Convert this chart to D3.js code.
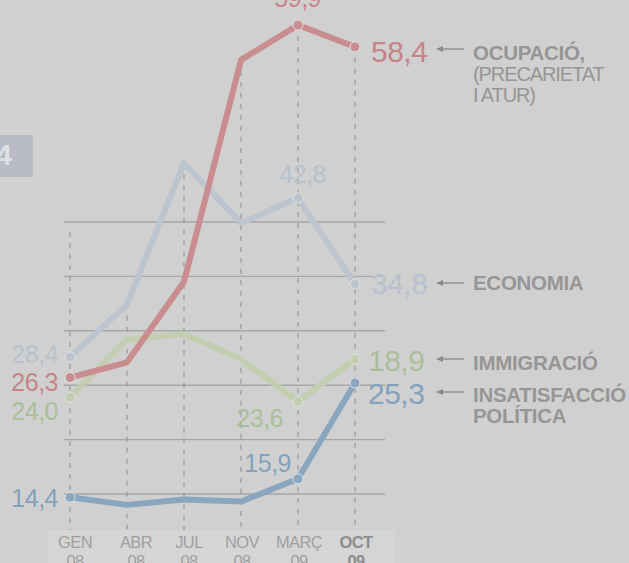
<!DOCTYPE html>
<html><head><meta charset="utf-8">
<script src="https://cdn.jsdelivr.net/npm/d3@7/dist/d3.min.js"></script>
<style>
html,body{margin:0;padding:0;background:#d0d0d0;overflow:hidden}
svg{display:block}
text{font-family:"Liberation Sans",Arial,Helvetica,sans-serif}
</style></head>
<body>
<svg id="c" width="629" height="563"></svg>
<script>
// ---- data ----
const categories = ["GEN", "ABR", "JUL", "NOV", "MARÇ", "OCT"];
const years = ["08", "08", "08", "08", "09", "09"];
const gridTicks = [15, 20, 25, 30, 35, 40];
const economia = [27.6, 32.4, 45.4, 39.9, 42.2, 34.3];
const immigracio = [23.9, 29.2, 29.7, 27.4, 23.5, 27.4];
const ocupacio = [25.7, 27.1, 34.5, 54.9, 58.1, 56.1];
const insatisfaccio = [14.7, 14.0, 14.5, 14.3, 16.4, 25.2];
// displayed value labels: [categoryIndex, text]
const economiaLabels = [[0, "28,4"], [4, "42,8"], [5, "34,8"]];
const immigracioLabels = [[0, "24,0"], [4, "23,6"], [5, "18,9"]];
const ocupacioLabels = [[0, "26,3"], [4, "59,9"], [5, "58,4"]];
const insatisfaccioLabels = [[0, "14,4"], [4, "15,9"], [5, "25,3"]];
const seriesNames = {
  economia: ["ECONOMIA"],
  immigracio: ["IMMIGRACIÓ"],
  ocupacio: ["OCUPACIÓ,", "(PRECARIETAT", "I ATUR)"],
  insatisfaccio: ["INSATISFACCIÓ", "POLÍTICA"]
};
const markerIdx = [0, 4, 5];

const svg = d3.select("#c");
const x = d3.scalePoint().domain(categories).range([70, 355]);
const y = d3.scaleLinear().domain([0, 60]).range([657.2, 4.4]);

// bottom label band
svg.append("rect").attr("x", 48).attr("y", 530).attr("width", 347).attr("height", 40).attr("fill", "#d5d5d5");

// left box with "4"
svg.append("rect").attr("x", -10).attr("y", 135).attr("width", 43).attr("height", 42).attr("fill", "#b9bcc6");
svg.append("text").attr("x", 12).attr("y", 165).attr("text-anchor", "end")
  .attr("font-size", 29).attr("font-weight", "bold").attr("fill", "#dfe0e4").text("4");

// gridlines
svg.append("g").selectAll("line").data(gridTicks).join("line")
  .attr("x1", 64).attr("x2", 385)
  .attr("y1", d => y(d)).attr("y2", d => y(d))
  .attr("stroke", "#a6a6a6").attr("stroke-width", 1.4);

const all = [economia, immigracio, ocupacio, insatisfaccio];
// dashed verticals
svg.append("g").selectAll("line").data(categories).join("line")
  .attr("x1", d => x(d)).attr("x2", d => x(d))
  .attr("y1", (d, i) => i === 0 ? y(gridTicks[gridTicks.length - 1]) + 10 : d3.min(all, s => y(s[i])) + 11)
  .attr("y2", 530)
  .attr("stroke", "#8c8c8c").attr("stroke-width", 1).attr("stroke-dasharray", "5,6");

const series = [
  {key: "economia", vals: economia, labels: economiaLabels, line: "#bcc4ce", txt: "#b8c1cc"},
  {key: "immigracio", vals: immigracio, labels: immigracioLabels, line: "#c3ceb1", txt: "#aabf99"},
  {key: "ocupacio", vals: ocupacio, labels: ocupacioLabels, line: "#c98d90", txt: "#c98387"},
  {key: "insatisfaccio", vals: insatisfaccio, labels: insatisfaccioLabels, line: "#8aa6bf", txt: "#82a2bd"}
];

const lineGen = d3.line().x((d, i) => x(categories[i])).y(d => y(d));
series.forEach(s => {
  const g = svg.append("g");
  g.append("path").attr("d", lineGen(s.vals)).attr("fill", "none")
    .attr("stroke", s.line).attr("stroke-width", 6).attr("stroke-linejoin", "round").attr("stroke-linecap", "round");
  g.selectAll("circle").data(markerIdx).join("circle")
    .attr("cx", i => x(categories[i])).attr("cy", i => y(s.vals[i])).attr("r", 5)
    .attr("fill", s.line).attr("stroke", "#e2e2e2").attr("stroke-width", 1);
});

// value labels
const labelPos = {
  economia: {0: [58, 363, "end", 25], 4: [326, 183, "end", 25], 5: [371, 294, "start", 30]},
  immigracio: {0: [58, 420, "end", 25], 4: [283, 427, "end", 25], 5: [368, 371, "start", 30]},
  ocupacio: {0: [58, 391, "end", 25], 4: [321, 7, "end", 25], 5: [371, 62, "start", 30]},
  insatisfaccio: {0: [58, 507, "end", 25], 4: [291, 472, "end", 25], 5: [368, 404, "start", 30]}
};
series.forEach(s => {
  s.labels.forEach(([i, t]) => {
    const p = labelPos[s.key][i];
    svg.append("text").attr("x", p[0]).attr("y", p[1]).attr("text-anchor", p[2])
      .attr("font-size", p[3]).attr("fill", s.txt).attr("letter-spacing", -0.5).text(t);
  });
});

// right-side names with arrows
const namePos = {ocupacio: [60, 49], economia: [290, 283], immigracio: [370, 359], insatisfaccio: [402, 392]};
Object.keys(seriesNames).forEach(k => {
  const [by, ay] = namePos[k];
  seriesNames[k].forEach((t, j) => {
    const bold = (k === "ocupacio" && j > 0) ? false : true;
    svg.append("text").attr("x", 473).attr("y", by + j * 21)
      .attr("font-size", bold ? 20.5 : 20).attr("font-weight", bold ? "bold" : "normal")
      .attr("letter-spacing", bold ? -0.3 : -1.1)
      .attr("fill", "#969696").text(t);
  });
  svg.append("line").attr("x1", 438).attr("x2", 464).attr("y1", ay).attr("y2", ay)
    .attr("stroke", "#8a8a8a").attr("stroke-width", 1.3);
  svg.append("path").attr("d", `M436,${ay} l7,-3 l0,6 z`).attr("fill", "#8a8a8a");
});

// x axis labels
const xl = svg.append("g");
categories.forEach((c, i) => {
  const bold = i === categories.length - 1;
  const t = xl.append("text").attr("x", x(c) + (i === 0 ? 5 : i === 1 ? 9 : i === 2 ? 5 : 1))
    .attr("text-anchor", "middle").attr("font-size", 16.5)
    .attr("font-weight", bold ? "bold" : "normal").attr("fill", bold ? "#8c8c8c" : "#a0a0a0")
    .attr("letter-spacing", -0.6);
  t.append("tspan").attr("x", x(c) + (i === 0 ? 5 : i === 1 ? 9 : i === 2 ? 5 : 1)).attr("y", 548).text(c);
  t.append("tspan").attr("x", x(c) + (i === 0 ? 5 : i === 1 ? 9 : i === 2 ? 5 : 1)).attr("y", 567).text(years[i]);
});
</script>
</body></html>
